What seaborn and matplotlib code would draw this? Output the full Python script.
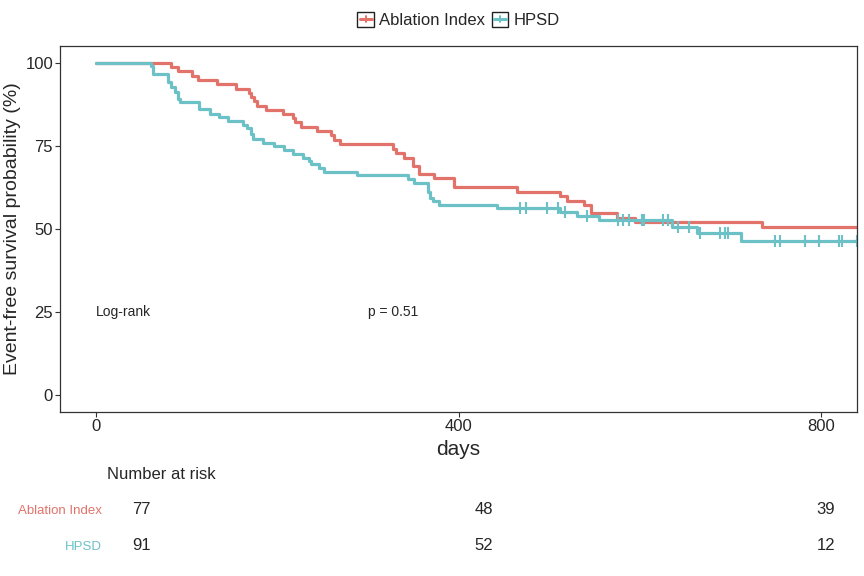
import numpy as np
import pandas as pd
import matplotlib
matplotlib.use("Agg")
import matplotlib.pyplot as plt
import seaborn as sns
from matplotlib import font_manager
from matplotlib.legend_handler import HandlerBase
from matplotlib.lines import Line2D
from matplotlib.patches import Rectangle

# Kaplan-Meier steps
ai_time = [0, 83, 90, 106, 112, 133, 154, 169, 171, 174, 177, 187, 206, 217, 219, 226,
           244, 259, 262, 269, 328, 331, 340, 350, 356, 373, 395, 465, 512, 520, 538,
           546, 575, 595, 735, 840]
ai_surv = [100, 98.7, 97.4, 96.1, 94.8, 93.5, 92.2, 91.0, 89.7, 88.4, 87.1, 85.9, 84.7,
           83.4, 82.2, 80.7, 79.5, 78.2, 76.9, 75.5, 74.2, 73.0, 71.5, 69.0, 66.4, 65.2,
           62.7, 61.2, 59.9, 58.5, 57.2, 54.7, 53.4, 52.0, 50.7, 50.7]

hpsd_time = [0, 61, 63, 79, 83, 87, 90, 92, 114, 126, 136, 145, 162, 167, 171, 173, 184,
             196, 207, 217, 228, 235, 237, 246, 252, 288, 344, 351, 366, 369, 372, 378,
             443, 512, 531, 555, 636, 663, 712, 840]
hpsd_surv = [100, 98.9, 96.7, 94.2, 92.7, 91.2, 89.2, 88.2, 86.0, 84.7, 83.6, 82.6, 81.4,
             80.4, 78.7, 77.2, 75.9, 74.9, 73.9, 72.7, 71.5, 70.6, 69.7, 68.4, 67.2, 66.1,
             65.0, 63.8, 61.2, 59.2, 58.4, 57.3, 56.2, 55.2, 54.0, 52.7, 50.6, 48.8, 46.3,
             46.3]
hpsd_censor = [468, 475, 498, 510, 518, 542, 576, 582, 588, 602, 605, 626, 631, 642, 654,
               667, 689, 694, 698, 749, 755, 783, 798, 820, 823, 840]

groups = ["Ablation Index", "HPSD"]
colors = ["#E2736B", "#6CC1C6"]
risk_times = [0, 400, 800]
risk_ai = [77, 48, 39]
risk_hpsd = [91, 52, 12]
pval_text = "p = 0.51"

df = pd.concat([
    pd.DataFrame({"time": ai_time, "surv": ai_surv, "group": groups[0]}),
    pd.DataFrame({"time": hpsd_time, "surv": hpsd_surv, "group": groups[1]}),
])

sns.set_theme(style="white")
plt.rcParams["font.family"] = ["Liberation Sans", "DejaVu Sans"]

# narrow face for the long y label, if it is there
names = {f.name for f in font_manager.fontManager.ttflist}
if "Liberation Sans Narrow" in names:
    ylab_font = dict(family="Liberation Sans Narrow", size=16)
else:
    ylab_font = dict(family="Liberation Sans", size=14)

fig = plt.figure(figsize=(8.64, 5.76), dpi=100)
ax = fig.add_axes([0.0694, 0.2847, 0.9226, 0.6353])

sns.lineplot(data=df, x="time", y="surv", hue="group", palette=colors,
             estimator=None, sort=False, drawstyle="steps-post", linewidth=2.3,
             legend=False, ax=ax)

# censor marks on HPSD
idx = np.searchsorted(hpsd_time, hpsd_censor, side="right") - 1
cens_y = np.array(hpsd_surv)[idx]
ax.plot(hpsd_censor, cens_y, ls="none", marker="|", ms=8, mew=1.5, color=colors[1])

ax.set_xlim(-40, 840)
ax.set_ylim(-5, 105)
ax.set_xticks([0, 400, 800])
ax.set_yticks([0, 25, 50, 75, 100])
ax.tick_params(axis="both", labelsize=12, length=3.5, width=0.8, color="#333333",
               direction="out", bottom=True, left=True, pad=1.5)
for s in ax.spines.values():
    s.set_color("#333333")
    s.set_linewidth(0.9)
ax.set_xlabel("days", fontsize=15, labelpad=4)
ax.set_ylabel("Event-free survival probability (%)", labelpad=3, **ylab_font)

ax.text(0, 25, "Log-rank", fontsize=10, ha="left", va="center")
ax.text(300, 25, pval_text, fontsize=10, ha="left", va="center")


class BoxedKey(HandlerBase):
    def create_artists(self, legend, orig_handle, xdescent, ydescent, width, height,
                       fontsize, trans):
        c = orig_handle.get_color()
        x0, y0 = -xdescent, -ydescent
        box = Rectangle((x0, y0), width, height, fc="white", ec="#222222", lw=1.0,
                        transform=trans)
        hline = Line2D([x0 + 1.5, x0 + width - 1.5], [y0 + height / 2] * 2, color=c,
                       lw=2.2, transform=trans)
        vline = Line2D([x0 + width / 2] * 2, [y0 + height * 0.3, y0 + height * 0.7],
                       color=c, lw=1.4, transform=trans)
        return [box, hline, vline]


handles = [Line2D([], [], color=c) for c in colors]
ax.legend(handles, groups, loc="center", bbox_to_anchor=(0.5, 1.071), ncol=2,
          frameon=False, fontsize=12, handler_map={Line2D: BoxedKey()},
          handlelength=1.0, handleheight=1.0, handletextpad=0.3, columnspacing=0.4)

# risk table
tab = fig.add_axes([0.1238, 0.0208, 0.8715, 0.1267])
for i, vals in enumerate([risk_ai, risk_hpsd]):
    for t, v in zip(risk_times, vals):
        tab.text(t, i, str(v), ha="center", va="center", fontsize=12)
tab.set_xlim(-40, 840)
tab.set_ylim(1.5, -0.5)
tab.set_yticks([0, 1])
tab.set_yticklabels(groups, fontsize=9.5)
for lab, c in zip(tab.get_yticklabels(), colors):
    lab.set_color(c)
tab.set_xticks([])
tab.tick_params(axis="y", length=0, pad=4)
for s in tab.spines.values():
    s.set_visible(False)
tab.set_title("Number at risk", loc="left", fontsize=12, pad=9)

fig.savefig("out.png", dpi=100)
